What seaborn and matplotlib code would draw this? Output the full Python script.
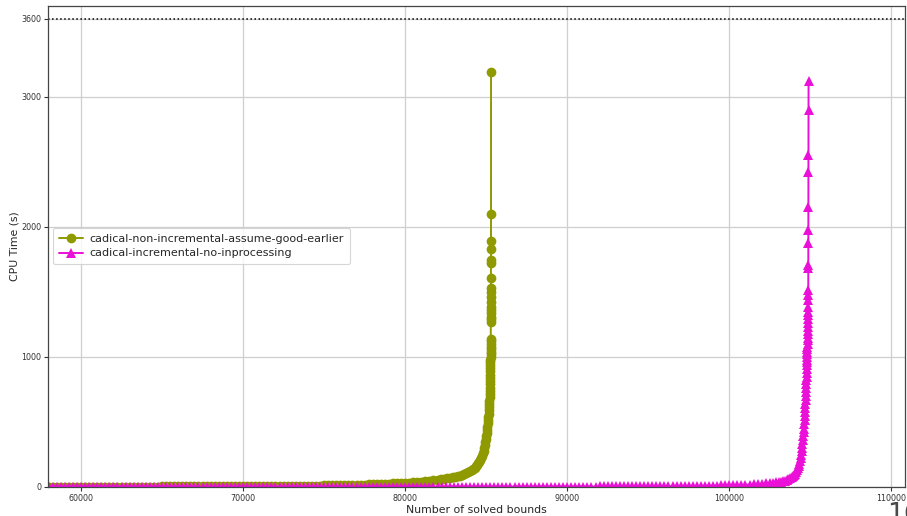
import matplotlib
matplotlib.use("Agg")
import matplotlib.pyplot as plt
import seaborn as sns
import pandas as pd

# ---- data ----
label_a = "cadical-non-incremental-assume-good-earlier"
label_b = "cadical-incremental-no-inprocessing"

olive_x = [
    57000, 57250, 57500, 57750, 58000, 58250, 58500, 58750, 59000, 59250,
    59500, 59750, 60000, 60250, 60500, 60750, 61000, 61250, 61500, 61750,
    62000, 62250, 62500, 62750, 63000, 63250, 63500, 63750, 64000, 64250,
    64500, 64750, 65000, 65250, 65500, 65750, 66000, 66250, 66500, 66750,
    67000, 67250, 67500, 67750, 68000, 68250, 68500, 68750, 69000, 69250,
    69500, 69750, 70000, 70250, 70500, 70750, 71000, 71250, 71500, 71750,
    72000, 72250, 72500, 72750, 73000, 73250, 73500, 73750, 74000, 74250,
    74500, 74750, 75000, 75250, 75500, 75750, 76000, 76250, 76500, 76750,
    77000, 77250, 77500, 77750, 78000, 78250, 78500, 78750, 79000, 79250,
    79500, 79750, 80000, 80250, 80500, 80750, 81000, 81250, 81500, 81750,
    82000, 82200, 82400, 82600, 82800, 82950, 83100, 83250, 83400, 83520,
    83650, 83780, 83900, 84000, 84100, 84200, 84300, 84380, 84450, 84520,
    84580, 84640, 84700, 84750, 84800, 84840, 84880, 84915, 84950, 84980,
    85010, 85035, 85060, 85080, 85100, 85120, 85140, 85155, 85170, 85180,
    85190, 85200, 85210, 85218, 85225, 85232, 85240, 85245, 85250, 85254,
    85258, 85262, 85264, 85266, 85268, 85270, 85272, 85274, 85276, 85278,
    85280, 85282, 85284, 85285, 85286, 85287, 85288, 85289, 85290, 85291,
    85292, 85293, 85294, 85295, 85296, 85297, 85298, 85299, 85300, 85301,
]
olive_y = [
    3, 3, 3, 3, 3, 3, 3, 3, 3, 3,
    3, 3, 3, 3, 3, 3, 3, 3, 3, 3,
    3, 3, 3, 3, 3, 3, 3, 3, 3, 3,
    3, 3, 4, 4, 4, 4, 4, 4, 4, 4,
    4, 4, 4, 4, 4, 4, 4, 4, 4, 4,
    4, 4, 5, 5, 6, 6, 6, 7, 7, 7,
    8, 8, 8, 9, 9, 9, 10, 10, 10, 11,
    11, 11, 12, 12, 13, 13, 14, 14, 15, 16,
    17, 18, 19, 20, 21, 22, 23, 24, 26, 27,
    29, 30, 32, 34, 36, 38, 41, 44, 47, 51,
    55, 58, 62, 66, 70, 74, 78, 83, 88, 94,
    100, 107, 115, 122, 130, 139, 148, 159, 170, 182,
    195, 210, 225, 242, 260, 280, 300, 322, 345, 367,
    390, 415, 440, 465, 490, 515, 540, 565, 590, 615,
    640, 665, 690, 715, 740, 765, 790, 815, 840, 865,
    890, 915, 940, 960, 980, 1000, 1020, 1040, 1060, 1080,
    1100, 1120, 1140, 1270, 1290, 1310, 1338, 1360, 1387, 1425,
    1464, 1498, 1528, 1605, 1725, 1750, 1831, 1892, 2100, 3195,
]

magenta_x = [
    57000, 57250, 57500, 57750, 58000, 58250, 58500, 58750, 59000, 59250,
    59500, 59750, 60000, 60250, 60500, 60750, 61000, 61250, 61500, 61750,
    62000, 62250, 62500, 62750, 63000, 63250, 63500, 63750, 64000, 64250,
    64500, 64750, 65000, 65250, 65500, 65750, 66000, 66250, 66500, 66750,
    67000, 67250, 67500, 67750, 68000, 68250, 68500, 68750, 69000, 69250,
    69500, 69750, 70000, 70250, 70500, 70750, 71000, 71250, 71500, 71750,
    72000, 72250, 72500, 72750, 73000, 73250, 73500, 73750, 74000, 74250,
    74500, 74750, 75000, 75250, 75500, 75750, 76000, 76250, 76500, 76750,
    77000, 77250, 77500, 77750, 78000, 78250, 78500, 78750, 79000, 79250,
    79500, 79750, 80000, 80250, 80500, 80750, 81000, 81250, 81500, 81750,
    82000, 82250, 82500, 82750, 83000, 83250, 83500, 83750, 84000, 84250,
    84500, 84750, 85000, 85250, 85500, 85750, 86000, 86250, 86500, 86750,
    87000, 87250, 87500, 87750, 88000, 88250, 88500, 88750, 89000, 89250,
    89500, 89750, 90000, 90250, 90500, 90750, 91000, 91250, 91500, 91750,
    92000, 92250, 92500, 92750, 93000, 93250, 93500, 93750, 94000, 94250,
    94500, 94750, 95000, 95250, 95500, 95750, 96000, 96250, 96500, 96750,
    97000, 97250, 97500, 97750, 98000, 98250, 98500, 98750, 99000, 99250,
    99500, 99750, 100000, 100250, 100500, 100750, 101000, 101250, 101500, 101750,
    102000, 102250, 102500, 102700, 102900, 103050, 103200, 103330, 103450, 103550,
    103650, 103750, 103850, 103930, 104000, 104060, 104120, 104180, 104230, 104280,
    104320, 104360, 104400, 104430, 104460, 104490, 104520, 104545, 104570, 104590,
    104610, 104630, 104650, 104665, 104680, 104692, 104705, 104715, 104725, 104735,
    104745, 104752, 104760, 104768, 104775, 104782, 104790, 104795, 104800, 104805,
    104810, 104815, 104820, 104825, 104830, 104835, 104840, 104845, 104850, 104855,
    104858, 104861, 104864, 104867, 104870, 104872, 104874, 104876, 104878, 104880,
    104882, 104884, 104886, 104888, 104890, 104892, 104894,
]
magenta_y = [
    2, 2, 2, 2, 2, 2, 2, 2, 2, 2,
    2, 2, 2, 2, 2, 2, 2, 2, 2, 2,
    2, 2, 2, 2, 2, 2, 2, 2, 2, 2,
    2, 2, 2, 2, 2, 2, 2, 2, 2, 2,
    2, 2, 2, 2, 2, 2, 2, 2, 2, 2,
    2, 2, 2, 2, 2, 2, 2, 2, 2, 2,
    2, 2, 2, 2, 2, 2, 2, 2, 2, 2,
    2, 2, 2, 2, 2, 2, 2, 2, 2, 2,
    2, 2, 2, 2, 2, 2, 2, 2, 2, 2,
    2, 2, 3, 3, 3, 3, 3, 3, 3, 3,
    3, 3, 3, 3, 3, 3, 3, 3, 3, 3,
    3, 3, 3, 3, 3, 3, 3, 3, 3, 3,
    3, 3, 3, 3, 3, 3, 3, 3, 3, 3,
    3, 3, 3, 3, 3, 3, 3, 3, 3, 3,
    4, 4, 4, 4, 4, 4, 4, 4, 4, 4,
    4, 4, 4, 4, 4, 4, 5, 5, 6, 6,
    7, 7, 7, 8, 8, 9, 9, 10, 10, 11,
    12, 12, 13, 14, 15, 16, 17, 18, 20, 22,
    24, 27, 30, 33, 36, 39, 42, 46, 50, 55,
    60, 67, 75, 83, 92, 103, 115, 130, 145, 162,
    180, 202, 225, 250, 275, 302, 330, 360, 390, 420,
    450, 482, 515, 548, 580, 610, 640, 670, 700, 730,
    760, 790, 820, 850, 880, 910, 940, 960, 980, 1000,
    1020, 1040, 1060, 1080, 1100, 1130, 1150, 1180, 1200, 1230,
    1260, 1290, 1320, 1350, 1385, 1440, 1477, 1515, 1682, 1708,
    1874, 1977, 2156, 2426, 2554, 2900, 3120,
]

timeout = 3600
x_ticks = [60000, 70000, 80000, 90000, 100000, 110000]
y_ticks = [0, 1000, 2000, 3000, 3600]
page_number = "16"

df_a = pd.DataFrame({"solved": olive_x, "time": olive_y})
df_b = pd.DataFrame({"solved": magenta_x, "time": magenta_y})

# ---- style ----
sns.set_theme(style="ticks")
plt.rcParams["font.family"] = ["DejaVu Sans"]

fig = plt.figure(figsize=(9.07, 5.16), dpi=100)
ax = fig.add_axes([48 / 907, 29 / 516, 857 / 907, 481 / 516])

olive = "#8e9a00"
magenta = "#ea10d8"

sns.lineplot(data=df_a, x="solved", y="time", ax=ax, color=olive, marker="o",
             markersize=7.0, markeredgewidth=0, linewidth=1.4, sort=False,
             estimator=None, label=label_a)
sns.lineplot(data=df_b, x="solved", y="time", ax=ax, color=magenta, marker="^",
             markersize=7.4, markeredgewidth=0, linewidth=1.4, sort=False,
             estimator=None, label=label_b)

ax.axhline(timeout, color="black", linestyle=":", linewidth=1.1, zorder=1)

ax.set_xlim(57964, 110845)
ax.set_ylim(0, 3700)
ax.set_xticks(x_ticks)
ax.set_yticks(y_ticks)
ax.tick_params(axis="both", labelsize=5.8, length=3, width=0.8, colors="#333333",
               pad=2)
ax.grid(True, color="#cfcfcf", linewidth=0.9)
ax.set_axisbelow(True)
for s in ax.spines.values():
    s.set_color("#444444")
    s.set_linewidth(0.9)

ax.set_xlabel("Number of solved bounds", fontsize=7.8, labelpad=1.5)
ax.set_ylabel("CPU Time (s)", fontsize=7.8, labelpad=1)

leg = ax.legend(loc="upper left", bbox_to_anchor=(0.006, 0.538), fontsize=8.0,
                frameon=True, borderpad=0.5, labelspacing=0.42,
                handlelength=2.2, handletextpad=0.6, borderaxespad=0)
leg.get_frame().set_edgecolor("#cccccc")
leg.get_frame().set_linewidth(0.8)

fig.text(887 / 907, -0.012, page_number, fontsize=19, color="#4a4a4a",
         ha="left", va="baseline")

fig.savefig("out.png", dpi=100)
